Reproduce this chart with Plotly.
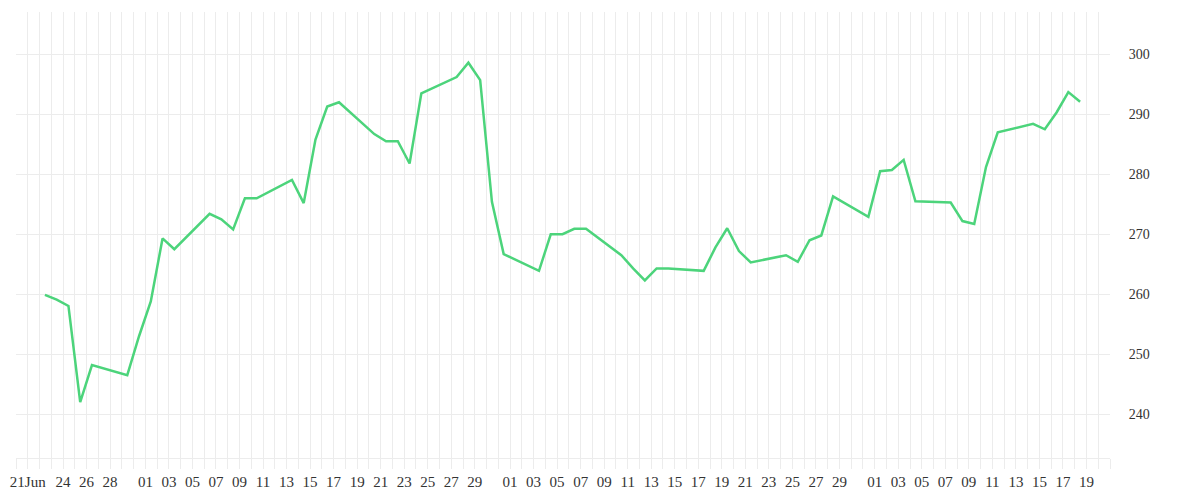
import pandas as pd
import plotly.graph_objects as go

# Cours de clôture (jours ouvrés, 2020)
dates = [
    "2020-06-22", "2020-06-23", "2020-06-24", "2020-06-25", "2020-06-26",
    "2020-06-29", "2020-06-30", "2020-07-01", "2020-07-02", "2020-07-03",
    "2020-07-06", "2020-07-07", "2020-07-08", "2020-07-09", "2020-07-10",
    "2020-07-13", "2020-07-14", "2020-07-15", "2020-07-16", "2020-07-17",
    "2020-07-20", "2020-07-21", "2020-07-22", "2020-07-23", "2020-07-24",
    "2020-07-27", "2020-07-28", "2020-07-29", "2020-07-30", "2020-07-31",
    "2020-08-03", "2020-08-04", "2020-08-05", "2020-08-06", "2020-08-07",
    "2020-08-10", "2020-08-11", "2020-08-12", "2020-08-13", "2020-08-14",
    "2020-08-17", "2020-08-18", "2020-08-19", "2020-08-20", "2020-08-21",
    "2020-08-24", "2020-08-25", "2020-08-26", "2020-08-27", "2020-08-28",
    "2020-08-31", "2020-09-01", "2020-09-02", "2020-09-03", "2020-09-04",
    "2020-09-07", "2020-09-08", "2020-09-09", "2020-09-10", "2020-09-11",
    "2020-09-14", "2020-09-15", "2020-09-16", "2020-09-17", "2020-09-18",
]
prix = [
    259.9, 259.1, 258.05, 242.0, 248.2,
    246.5, 253.0, 258.8, 269.3, 267.5,
    273.4, 272.5, 270.8, 276.0, 276.0,
    279.05, 275.2, 285.8, 291.3, 292.0,
    286.7, 285.5, 285.5, 281.8, 293.5,
    296.2, 298.6, 295.7, 275.4, 266.7,
    263.9, 270.0, 270.0, 270.9, 270.9,
    266.5, 264.3, 262.3, 264.3, 264.3,
    263.9, 267.8, 271.0, 267.2, 265.3,
    266.5, 265.4, 269.0, 269.8, 276.3,
    272.9, 280.5, 280.7, 282.4, 275.5,
    275.3, 272.2, 271.7, 281.2, 287.0,
    288.4, 287.5, 290.3, 293.7, 292.1,
]

# Étiquettes de l'axe des dates (un trait de grille par jour)
jours_etiquetes = {"2020-06-21": "21Jun", "2020-06-24": "24", "2020-06-26": "26", "2020-06-28": "28"}
for mois, dernier in (("07", 29), ("08", 29), ("09", 19)):
    for j in range(1, dernier + 1, 2):
        jours_etiquetes[f"2020-{mois}-{j:02d}"] = f"{j:02d}"

jours = pd.date_range("2020-06-20", "2020-09-21", freq="D")
tick_vals = [d.strftime("%Y-%m-%d") for d in jours]
tick_text = [jours_etiquetes.get(d, "") for d in tick_vals]

# les points tombent vers le milieu de la journée
x = [d + " 11:00" for d in dates]

GRILLE = "#ececec"

fig = go.Figure()
fig.add_trace(go.Scatter(
    x=x,
    y=prix,
    mode="lines",
    line=dict(color="#4cd47b", width=2.5),
    showlegend=False,
))

fig.update_layout(
    width=1200,
    height=500,
    margin=dict(l=8, r=98, t=4, b=50),
    plot_bgcolor="white",
    paper_bgcolor="white",
    font=dict(family="Liberation Serif", size=15, color="#333333"),
    xaxis=dict(
        type="date",
        range=["2020-06-20", "2020-09-21"],
        tickmode="array",
        tickvals=tick_vals,
        ticktext=tick_text,
        tickangle=0,
        automargin=False,
        showgrid=True,
        gridcolor=GRILLE,
        gridwidth=1,
        ticks="outside",
        ticklen=10,
        tickcolor=GRILLE,
        showline=True,
        linecolor=GRILLE,
        zeroline=False,
    ),
    yaxis=dict(
        side="right",
        range=[232.7, 307.05],
        tickvals=[240, 250, 260, 270, 280, 290, 300],
        automargin=False,
        showgrid=True,
        gridcolor=GRILLE,
        gridwidth=1,
        ticks="outside",
        ticklen=15,
        tickcolor="rgba(0,0,0,0)",
        tickfont=dict(family="Liberation Serif", size=14, color="#333333"),
        zeroline=False,
        showline=False,
    ),
)

fig.write_html("out.html")
